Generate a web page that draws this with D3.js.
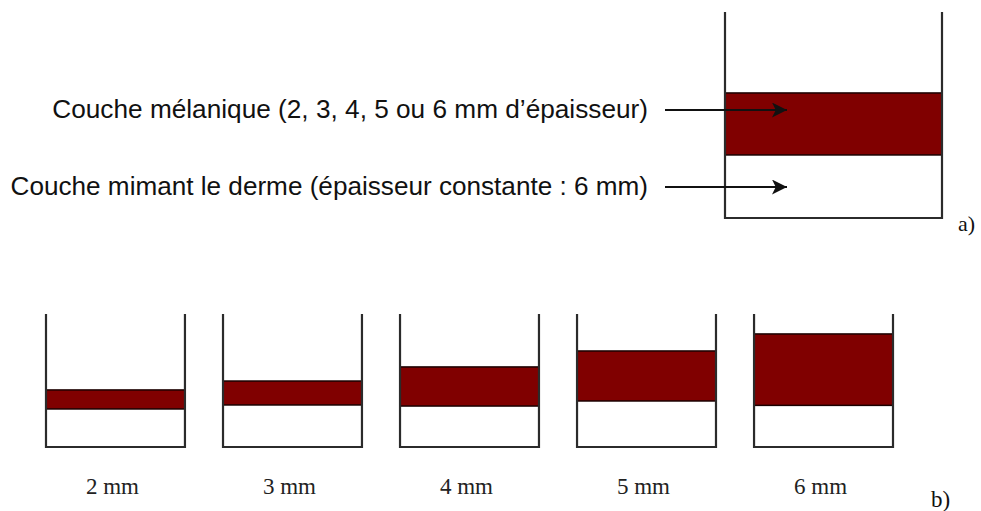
<!DOCTYPE html>
<html>
<head>
<meta charset="utf-8">
<script src="https://cdn.jsdelivr.net/npm/d3@7"></script>
<style>
  html, body { margin: 0; padding: 0; background: #fff; }
  svg { display: block; }
</style>
</head>
<body>
<svg id="chart" width="981" height="511"></svg>
<script>
// ---- data (levels are % of the container wall height) ----
const annotations = [
  "Couche mélanique (2, 3, 4, 5 ou 6 mm d’épaisseur)",
  "Couche mimant le derme (épaisseur constante : 6 mm)"
];
const panelAMelaninTop = 60.7;
const panelADermeTop = 30.6;

const thicknessLabels = ["2 mm", "3 mm", "4 mm", "5 mm", "6 mm"];
const melaninTop = [42.9, 49.6, 60.2, 72.2, 85.0];
const dermeTop = [28.6, 31.6, 30.8, 34.6, 31.3];

const panelLetters = ["a)", "b)"];

// ---- drawing ----
const svg = d3.select("#chart");
const MAROON = "#800000";
const WALL = "#2b2b2b";

svg.append("defs").append("marker")
  .attr("id", "arrow")
  .attr("viewBox", "0 0 10 10")
  .attr("refX", 10).attr("refY", 5)
  .attr("markerWidth", 23).attr("markerHeight", 15)
  .attr("markerUnits", "userSpaceOnUse")
  .attr("orient", "auto")
  .append("path")
  .attr("d", "M0,0 L10,5 L0,10 L2.5,5 Z")
  .attr("fill", "#111");

function container(g, x0, x1, y, melTop, derTop) {
  g.append("rect")
    .attr("x", x0).attr("width", x1 - x0)
    .attr("y", y(derTop)).attr("height", y(0) - y(derTop))
    .attr("fill", "#fff");
  g.append("rect")
    .attr("x", x0).attr("width", x1 - x0)
    .attr("y", y(melTop)).attr("height", y(derTop) - y(melTop))
    .attr("fill", MAROON)
    .attr("stroke", "#1a0000").attr("stroke-width", 1.5);
  g.append("path")
    .attr("d", `M${x0},${y(100)} V${y(0)} H${x1} V${y(100)}`)
    .attr("fill", "none")
    .attr("stroke", WALL).attr("stroke-width", 2.2);
}

// ---- panel a ----
const gA = svg.append("g");
const xA = d3.scaleLinear([0, 1], [725, 942]);
const yA = d3.scaleLinear([0, 100], [218, 12]);
container(gA, xA(0), xA(1), yA, panelAMelaninTop, panelADermeTop);

const annY = [110, 187];
const annLeft = [52, 10];
const annRight = 648;
annotations.forEach((t, i) => {
  const txt = gA.append("text")
    .attr("x", annRight).attr("y", annY[i] + 8)
    .attr("text-anchor", "end")
    .attr("font-family", "'Liberation Sans', Arial, sans-serif")
    .attr("font-size", 24)
    .attr("fill", "#111")
    .text(t);
  // fit the font so the text spans the same width as in the picture
  const w = txt.node().getComputedTextLength();
  txt.attr("font-size", 24 * (annRight - annLeft[i]) / w);
  gA.append("line")
    .attr("x1", 665).attr("x2", 787)
    .attr("y1", annY[i]).attr("y2", annY[i])
    .attr("stroke", "#111").attr("stroke-width", 2.2)
    .attr("marker-end", "url(#arrow)");
});

gA.append("text")
  .attr("x", 958).attr("y", 231)
  .attr("font-family", "'Liberation Serif', 'Times New Roman', serif")
  .attr("font-size", 22)
  .attr("fill", "#111")
  .text(panelLetters[0]);

// ---- panel b ----
const gB = svg.append("g");
const xB = d3.scaleBand(thicknessLabels, [46, 893]).paddingInner(0.215);
const yB = d3.scaleLinear([0, 100], [447, 314]);

thicknessLabels.forEach((lab, i) => {
  const x0 = xB(lab), x1 = x0 + xB.bandwidth();
  container(gB, x0, x1, yB, melaninTop[i], dermeTop[i]);
  gB.append("text")
    .attr("x", (x0 + x1) / 2 - 3).attr("y", 494)
    .attr("text-anchor", "middle")
    .attr("font-family", "'Liberation Serif', 'Times New Roman', serif")
    .attr("font-size", 23)
    .attr("fill", "#222")
    .text(lab);
});

gB.append("text")
  .attr("x", 931).attr("y", 507)
  .attr("font-family", "'Liberation Serif', 'Times New Roman', serif")
  .attr("font-size", 23)
  .attr("fill", "#111")
  .text(panelLetters[1]);
</script>
</body>
</html>
